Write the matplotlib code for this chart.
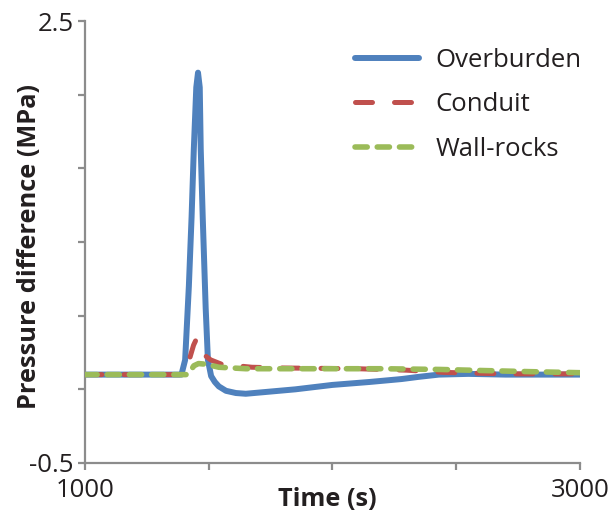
import matplotlib
matplotlib.use("Agg")
import matplotlib.pyplot as plt

plt.rcParams['font.family'] = ['Open Sans', 'DejaVu Sans']

# time axis and pressure differences (MPa) for each region
t_overburden = [1000, 1390, 1405, 1420, 1431, 1440, 1450, 1457, 1464, 1468, 1476,
                1488, 1497, 1510, 1525, 1541, 1570, 1610, 1650, 1750, 1850, 2000,
                2150, 2280, 2350, 2430, 2550, 2700, 2850, 3000]
p_overburden = [0.10, 0.10, 0.20, 0.70, 1.17, 1.63, 2.05, 2.15, 2.05, 1.63, 1.17,
                0.55, 0.20, 0.09, 0.05, 0.02, -0.01, -0.025, -0.03, -0.015, 0.0, 0.03,
                0.05, 0.07, 0.085, 0.10, 0.105, 0.10, 0.10, 0.10]

t_conduit = [1000, 1395, 1410, 1425, 1439, 1450, 1457, 1468, 1485, 1508, 1553,
             1675, 1800, 2100, 2300, 2450, 2700, 3000]
p_conduit = [0.10, 0.10, 0.14, 0.22, 0.30, 0.34, 0.33, 0.28, 0.23, 0.20, 0.17,
             0.15, 0.145, 0.14, 0.13, 0.115, 0.105, 0.105]

t_wall = [1000, 1410, 1425, 1440, 1459, 1492, 1541, 1650, 1900, 2200, 2435,
          2600, 2800, 3000]
p_wall = [0.10, 0.10, 0.12, 0.16, 0.175, 0.17, 0.15, 0.14, 0.14, 0.14, 0.135,
          0.128, 0.12, 0.113]

blue = '#4F81BD'
red = '#C0504D'
green = '#9BBB59'
axis_grey = '#8C8C8C'
text_col = '#231F20'

fig = plt.figure(figsize=(6.11, 5.15), dpi=100)
ax = fig.add_axes([0.139, 0.101, 0.810, 0.858])

ax.plot(t_overburden, p_overburden, color=blue, lw=4.3, solid_capstyle='round',
        solid_joinstyle='round', label='Overburden', zorder=2)
ax.plot(t_conduit, p_conduit, color=red, lw=3.6, dashes=(3.4, 4.4),
        dash_capstyle='round', label='Conduit', zorder=3)
ax.plot(t_wall, p_wall, color=green, lw=4.0, dashes=(2.2, 1.8),
        dash_capstyle='round', label='Wall-rocks', zorder=4)

ax.set_xlim(1000, 3000)
ax.set_ylim(-0.5, 2.5)
ax.set_xticks([1000, 1500, 2000, 2500, 3000])
ax.set_xticklabels(['1000', '', '', '', '3000'])
ax.set_yticks([-0.5, 0, 0.5, 1.0, 1.5, 2.0, 2.5])
ax.set_yticklabels(['-0.5', '', '', '', '', '', '2.5'])

for side in ['top', 'right']:
    ax.spines[side].set_visible(False)
for side in ['left', 'bottom']:
    ax.spines[side].set_color(axis_grey)
    ax.spines[side].set_linewidth(1.6)
ax.tick_params(direction='out', length=5, width=1.6, color=axis_grey,
               labelsize=18.5, labelcolor=text_col)
ax.tick_params(axis='y', pad=3)
ax.tick_params(axis='x', pad=6)

ax.set_xlabel('Time (s)', fontsize=18.3, fontweight='bold', color=text_col)
ax.set_ylabel('Pressure difference (MPa)', fontsize=18.3, fontweight='bold',
              color=text_col)
ax.xaxis.set_label_coords(0.49, -0.055)
ax.yaxis.set_label_coords(-0.087, 0.49)

ax.legend(loc='upper left', bbox_to_anchor=(0.545, 0.94), frameon=False,
          fontsize=18.5, handlelength=2.5, handletextpad=0.65, labelspacing=0.77,
          borderpad=0, borderaxespad=0, labelcolor=text_col)

fig.savefig('out.png', dpi=100, facecolor='white')
